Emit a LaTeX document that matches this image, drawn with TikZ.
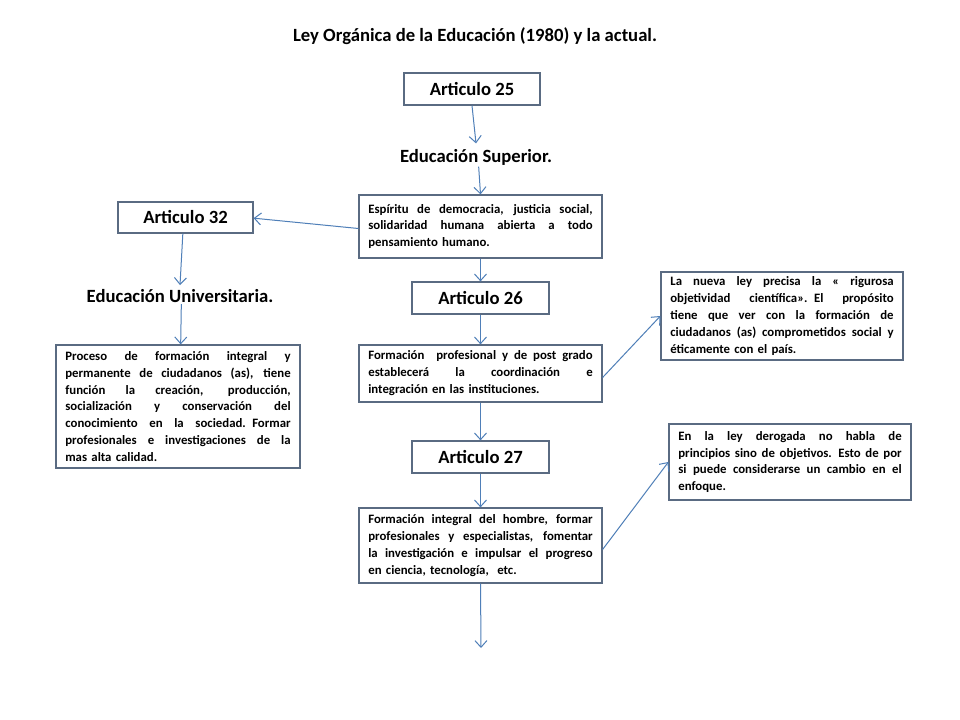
\documentclass[tikz,border=0pt]{standalone}
\usepackage{fontspec}
\setmainfont{Carlito}
\usetikzlibrary{arrows.meta}
\definecolor{boxline}{HTML}{5A6B82}
\definecolor{arrowc}{HTML}{4F7FB8}
\newcommand\jline[1]{\noindent\hbox to \hsize{\spaceskip=0.25em plus 2em\relax #1}\par}
\tikzset{
  txtbox/.style={draw=boxline, line width=0.9pt, fill=white, font=\bfseries\fontsize{9.6}{12.7}\selectfont,
    align=left, inner xsep=7pt, inner ysep=0pt, minimum width=#1, text width=#1-14pt},
  artbox/.style={draw=boxline, line width=0.9pt, fill=white, font=\bfseries\fontsize{14}{16}\selectfont,
    minimum width=102pt, minimum height=24pt, inner sep=0pt},
  headtxt/.style={font=\bfseries\fontsize{14}{16}\selectfont, inner sep=1pt},
  conn/.style={draw=arrowc, line width=0.75pt, -{Straight Barb[length=5pt,width=9pt]}}
}
\begin{document}
\begin{tikzpicture}[x=0.75pt,y=-0.75pt]
\useasboundingbox[fill=white] (0,0) rectangle (960,720);
\node[font=\bfseries\fontsize{14}{16}\selectfont] (title) at (475,36) {Ley Orgánica de la Educación (1980) y la actual.};
\node[artbox] (a25) at (472,89) {Articulo 25};
\node[headtxt] (edsup) at (476,157) {Educación Superior.};
\node[txtbox=182.25pt, minimum height=47.25pt] (b1) at (480.5,226.5) {\jline{Espíritu de democracia, justicia social,}\jline{solidaridad humana abierta a todo}\noindent pensamiento humano.};
\node[artbox, minimum width=101.25pt, minimum height=23.25pt] (a32) at (185.5,217.5) {Articulo 32};
\node[headtxt] (eduniv) at (180,296) {Educación Universitaria.};
\node[txtbox=183pt, minimum height=92.25pt] (lb) at (178,406.5) {\jline{Proceso de formación integral y}\jline{permanente de ciudadanos (as), tiene}\jline{función la creación, producción,}\jline{socialización y conservación del}\jline{conocimiento en la sociedad. Formar}\jline{profesionales e investigaciones de la}\noindent mas alta calidad.};
\node[artbox, minimum width=102.75pt] (a26) at (480.5,298) {Articulo 26};
\node[txtbox=182.25pt, minimum height=42.75pt] (b2) at (480.5,373.5) {\jline{Formación\ \ profesional y de post grado}\jline{establecerá la coordinación e}\noindent integración en las instituciones.};
\node[txtbox=181.5pt, minimum height=66pt] (r1) at (782,316) {\jline{La nueva ley precisa la « rigurosa}\jline{objetividad científica». El propósito}\jline{tiene que ver con la formación de}\jline{ciudadanos (as) comprometidos social y}\noindent éticamente con el país.};
\node[artbox, minimum width=102.75pt] (a27) at (480.5,457) {Articulo 27};
\node[txtbox=182.25pt, minimum height=56.25pt] (b3) at (480.5,545.5) {\jline{Formación integral del hombre, formar}\jline{profesionales y especialistas, fomentar}\jline{la investigación e impulsar el progreso}\noindent en ciencia, tecnología,\ \ etc.};
\node[txtbox=181.5pt, minimum height=57pt] (r2) at (790,462) {\jline{En la ley derogada no habla de}\jline{principios sino de objetivos. Esto de por}\jline{si puede considerarse un cambio en el}\noindent enfoque.};
\coordinate (end) at (481,648);
\draw[conn] (a25.south) -- ([yshift=3pt]edsup.north east -| 476,0);
\draw[conn] ([xshift=2pt]edsup.south) -- (b1.north);
\draw[conn] ([yshift=-1.5pt]b1.west) -- ([yshift=-0.5pt]a32.east);
\draw[conn] ([xshift=-2pt]a32.south) -- ([yshift=2pt]eduniv.north);
\draw[conn] ([xshift=1pt]eduniv.south) -- ([xshift=2pt]lb.north);
\draw[conn] (b1.south) -- (a26.north);
\draw[conn] (a26.south) -- (b2.north);
\draw[conn] ([yshift=-3pt]b2.east) -- (r1.west);
\draw[conn] (b2.south) -- (a27.north);
\draw[conn] (a27.south) -- (b3.north);
\draw[conn] ([yshift=-3pt]b3.east) -- (r2.west);
\draw[conn] (b3.south) -- (end);
\end{tikzpicture}
\end{document}
